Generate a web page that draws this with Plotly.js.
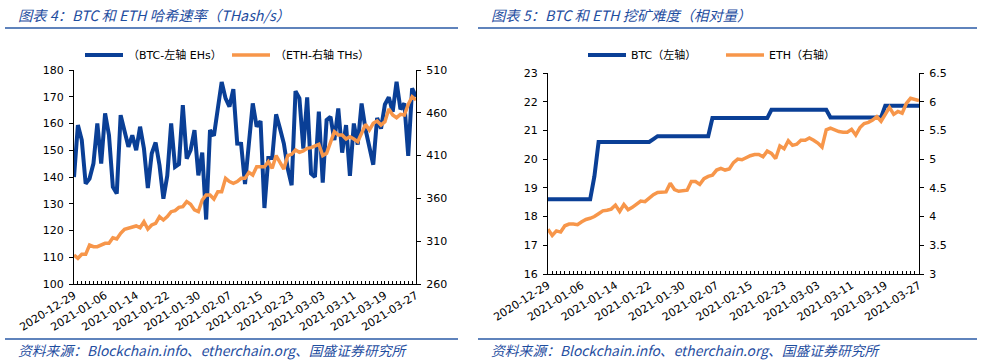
<!DOCTYPE html>
<html><head><meta charset="utf-8">
<script src="https://cdn.plot.ly/plotly-3.0.1.min.js"></script>
<style>html,body{margin:0;padding:0;background:#fff;}#chart{width:982px;height:362px;}</style>
</head><body><div id="chart"></div>
<script>
// ---- categories (daily dates) ----
const startDate = '2020-12-29';
const dayCount = 89;
const labelEvery = 8;
const dates = [];
(function(){
  const d0 = new Date(startDate + 'T00:00:00Z');
  for (let i = 0; i < dayCount; i++) {
    const d = new Date(d0.getTime() + i * 86400000);
    dates.push(d.toISOString().slice(0, 10));
  }
})();
const tickLabels = dates.map((d, i) => (i % labelEvery === 0 ? d : ''));

// ---- Figure 4: hash rate ----
const btcHash = [140,159.4,153.8,137.5,139.4,145,160,145,163.8,155.6,
  136.3,133.8,163.1,156.9,151.3,155.6,150,158.8,150.6,135.9,
  148.8,152.9,144.4,131.9,140.5,160,143.8,144.8,166.9,146.9,
  150,157.5,140.6,149.1,124.1,157.5,155.4,165.5,175.5,169.4,
  166.3,172.8,152.5,152.4,137.4,152.5,167.5,158.8,160.9,128.4,
  147.1,147.1,163.4,158.1,152.5,143.1,136.9,172.1,169.4,150.6,
  169.8,141.3,140,164.4,137.9,161.3,162.5,153.8,165.6,149.1,
  159.4,140.4,160,152.1,167.5,157.9,151.9,144.6,162.1,158.1,
  167.1,169.8,164.4,175.6,165.3,167.5,147.9,173.1,170];
const ethHash = [293.9,290,294.7,294.7,305.6,303.6,303.6,305.6,307.5,307.5,
  314,312.6,319.2,323.9,325,326.2,327.8,325.8,332.8,324.3,
  329,330.9,338.7,334.8,338.7,344.5,345.7,349.6,350.4,356.2,
  353.1,346.5,344.5,358.1,364,364,359.3,367.9,367.9,383.4,
  379.6,377.6,379.6,383.4,383.4,390.4,387.3,397,397,397,
  402.9,395.1,410,402.1,394.3,410,411.5,416.5,413.8,415.4,
  418.5,419.3,421.2,423.2,410,412.7,425.5,438,434.1,434.1,
  429.4,432.1,429.4,426.3,436,446.5,439.9,447.7,450.4,445.7,
  449.6,464.4,457.4,454.3,458.2,457.4,469.9,478.8,475];

// ---- Figure 5: mining difficulty ----
const btcDiff = [18.6,18.6,18.6,18.6,18.6,18.6,18.6,18.6,18.6,18.6,18.6,
  19.4,
  20.6,20.6,20.6,20.6,20.6,20.6,20.6,20.6,20.6,20.6,20.6,20.6,20.6,
  20.7,
  20.8,20.8,20.8,20.8,20.8,20.8,20.8,20.8,20.8,20.8,20.8,20.8,20.8,
  21.43,21.43,21.43,21.43,21.43,21.43,21.43,21.43,21.43,21.43,21.43,21.43,21.43,21.43,
  21.72,21.72,21.72,21.72,21.72,21.72,21.72,21.72,21.72,21.72,21.72,21.72,21.72,21.72,
  21.45,21.45,21.45,21.45,21.45,21.45,21.45,21.45,21.45,21.45,21.45,21.45,21.45,
  21.86,21.86,21.86,21.86,21.86,21.86,21.86,21.86,21.86];
const ethDiff = [3.78,3.67,3.75,3.73,3.84,3.87,3.87,3.86,3.91,3.95,
  3.97,4.00,4.05,4.10,4.11,4.13,4.20,4.09,4.21,4.12,
  4.16,4.21,4.27,4.26,4.32,4.38,4.42,4.43,4.43,4.58,
  4.47,4.44,4.45,4.46,4.61,4.61,4.56,4.66,4.70,4.72,
  4.81,4.84,4.81,4.83,4.94,5.00,4.99,5.03,5.06,5.08,
  5.08,5.04,5.14,5.10,5.01,5.23,5.18,5.32,5.24,5.26,
  5.33,5.33,5.37,5.33,5.28,5.21,5.51,5.54,5.51,5.48,
  5.47,5.47,5.52,5.42,5.55,5.62,5.64,5.68,5.74,5.66,
  5.78,5.90,5.78,5.83,5.80,5.97,6.06,6.04,6.02];

const names = {
  btcHash: '（BTC-左轴 EHs）', ethHash: '（ETH-右轴 THs）',
  btcDiff: 'BTC（左轴）', ethDiff: 'ETH（右轴）'
};
const titles = {
  left: '图表 4：BTC 和 ETH 哈希速率（THash/s）',
  right: '图表 5：BTC 和 ETH 挖矿难度（相对量）',
  source: '资料来源：Blockchain.info、etherchain.org、国盛证券研究所'
};

const W = 982, H = 362;
const px = v => v / W, py = v => 1 - v / H;
const BLUE = '#0A3F96', ORANGE = '#F7964A', TXT = '#1F4E9F', RULE = '#2A5AA6';
const tickFont = {family: 'DejaVu Sans, Noto Sans CJK SC, sans-serif', size: 11, color: '#000'};
const legFont = {family: 'DejaVu Sans, Noto Sans CJK SC, sans-serif', size: 11, color: '#000'};

const traces = [
  {x: dates, y: btcHash, name: names.btcHash, type: 'scatter', mode: 'lines', xaxis: 'x', yaxis: 'y',
   line: {color: BLUE, width: 4}, legend: 'legend'},
  {x: dates, y: ethHash, name: names.ethHash, type: 'scatter', mode: 'lines', xaxis: 'x', yaxis: 'y2',
   line: {color: ORANGE, width: 3.5}, legend: 'legend2'},
  {x: dates, y: btcDiff, name: names.btcDiff, type: 'scatter', mode: 'lines', xaxis: 'x2', yaxis: 'y3',
   line: {color: BLUE, width: 4}, legend: 'legend3'},
  {x: dates, y: ethDiff, name: names.ethDiff, type: 'scatter', mode: 'lines', xaxis: 'x2', yaxis: 'y4',
   line: {color: ORANGE, width: 3.5}, legend: 'legend4'}
];

function xAxis(domain, anchor) {
  return {domain: domain, anchor: anchor, type: 'category', range: [0, dates.length - 1],
    tickmode: 'array', tickvals: dates, ticktext: tickLabels, tickangle: -32,
    ticks: 'inside', ticklen: 3, tickwidth: 1, tickcolor: '#000',
    showline: true, linecolor: '#000', linewidth: 1, showgrid: false, zeroline: false,
    tickfont: tickFont, fixedrange: true, automargin: false};
}
function yAxis(domain, range, dtick, extra) {
  return Object.assign({domain: domain, range: range, dtick: dtick, tick0: range[0], tickmode: 'linear',
    ticks: 'outside', ticklen: 4, tickwidth: 1, tickcolor: '#000',
    showline: true, linecolor: '#000', linewidth: 1, showgrid: false, zeroline: false,
    tickfont: tickFont, ticklabelstandoff: 3, fixedrange: true, automargin: false}, extra || {});
}

const leftX = [px(74), px(416)], leftY = [py(284), py(70)];
const rightX = [px(548), px(919)], rightY = [py(274), py(73)];

function legendAt(x) {
  return {x: px(x), y: py(55), xanchor: 'left', yanchor: 'middle', orientation: 'h',
    font: legFont, bgcolor: 'rgba(0,0,0,0)', borderwidth: 0, itemwidth: 38};
}

const layout = {
  width: W, height: H, margin: {l: 0, r: 0, t: 0, b: 0},
  paper_bgcolor: '#fff', plot_bgcolor: '#fff', showlegend: true,
  xaxis: xAxis(leftX, 'y'),
  yaxis: yAxis(leftY, [100, 180], 10, {anchor: 'x'}),
  yaxis2: yAxis(leftY, [260, 510], 50, {anchor: 'x', overlaying: 'y', side: 'right'}),
  xaxis2: xAxis(rightX, 'y3'),
  yaxis3: yAxis(rightY, [16, 23], 1, {anchor: 'x2'}),
  yaxis4: yAxis(rightY, [3, 6.5], 0.5, {anchor: 'x2', overlaying: 'y3', side: 'right'}),
  legend: legendAt(80), legend2: legendAt(227), legend3: legendAt(583), legend4: legendAt(721),
  shapes: [
    {type: 'line', xref: 'paper', yref: 'paper', x0: px(5), x1: px(458), y0: py(28), y1: py(28), line: {color: RULE, width: 1.5}},
    {type: 'line', xref: 'paper', yref: 'paper', x0: px(478), x1: px(977), y0: py(28), y1: py(28), line: {color: RULE, width: 1.5}},
    {type: 'line', xref: 'paper', yref: 'paper', x0: px(5), x1: px(458), y0: py(339), y1: py(339), line: {color: RULE, width: 1.5}},
    {type: 'line', xref: 'paper', yref: 'paper', x0: px(478), x1: px(977), y0: py(339), y1: py(339), line: {color: RULE, width: 1.5}}
  ],
  annotations: [
    {text: titles.left, xref: 'paper', yref: 'paper', x: px(16), y: py(14), xanchor: 'left', yanchor: 'middle', showarrow: false,
     font: {family: 'Noto Sans CJK SC, sans-serif', size: 14.3, color: TXT, style: 'italic'}},
    {text: titles.right, xref: 'paper', yref: 'paper', x: px(489), y: py(14), xanchor: 'left', yanchor: 'middle', showarrow: false,
     font: {family: 'Noto Sans CJK SC, sans-serif', size: 14.3, color: TXT, style: 'italic'}},
    {text: titles.source, xref: 'paper', yref: 'paper', x: px(16), y: py(350), xanchor: 'left', yanchor: 'middle', showarrow: false,
     font: {family: 'Noto Sans CJK SC, sans-serif', size: 13.8, color: TXT, style: 'italic'}},
    {text: titles.source, xref: 'paper', yref: 'paper', x: px(489), y: py(350), xanchor: 'left', yanchor: 'middle', showarrow: false,
     font: {family: 'Noto Sans CJK SC, sans-serif', size: 13.8, color: TXT, style: 'italic'}}
  ]
};

Plotly.newPlot('chart', traces, layout, {displayModeBar: false, staticPlot: true});
</script>
</body></html>
